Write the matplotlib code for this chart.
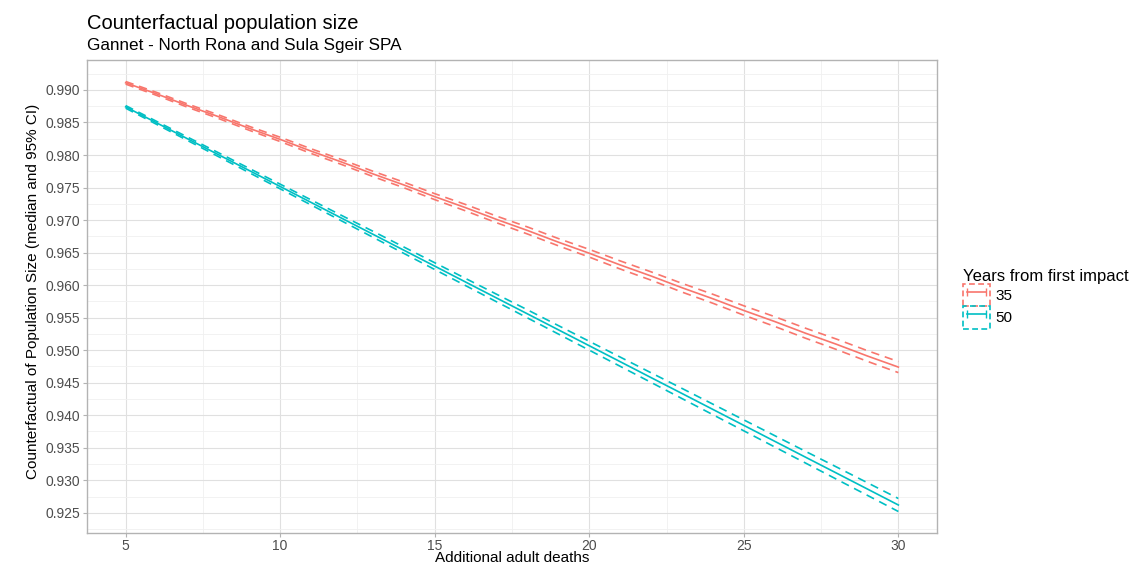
import numpy as np
import matplotlib.pyplot as plt
from matplotlib.lines import Line2D
from matplotlib.patches import Patch
from matplotlib.ticker import MultipleLocator

plt.rcParams['font.family'] = ['Liberation Sans', 'DejaVu Sans']

# additional adult deaths
deaths = list(range(5, 31))

# 35 years from first impact
med_35 = [0.9911, 0.9894, 0.9876, 0.9859, 0.9841, 0.9824, 0.9806, 0.9789, 0.9771,
          0.9754, 0.9736, 0.9719, 0.9701, 0.9684, 0.9666, 0.9649, 0.9631, 0.9614,
          0.9596, 0.9579, 0.9561, 0.9544, 0.9526, 0.9509, 0.9491, 0.9474]
up_35 = [0.99130, 0.98963, 0.98785, 0.98618, 0.98440, 0.98273, 0.98096, 0.97928,
         0.97751, 0.97583, 0.97406, 0.97239, 0.97061, 0.96894, 0.96716, 0.96549,
         0.96372, 0.96204, 0.96027, 0.95859, 0.95682, 0.95515, 0.95337, 0.95170,
         0.94992, 0.94825]
lo_35 = [0.99090, 0.98917, 0.98735, 0.98562, 0.98380, 0.98207, 0.98024, 0.97852,
         0.97669, 0.97497, 0.97314, 0.97141, 0.96959, 0.96786, 0.96604, 0.96431,
         0.96248, 0.96076, 0.95893, 0.95721, 0.95538, 0.95365, 0.95183, 0.95010,
         0.94828, 0.94655]

# 50 years from first impact
med_50 = [0.98740, 0.98495, 0.98250, 0.98006, 0.97761, 0.97516, 0.97271, 0.97026,
          0.96782, 0.96537, 0.96292, 0.96047, 0.95802, 0.95558, 0.95313, 0.95068,
          0.94823, 0.94578, 0.94334, 0.94089, 0.93844, 0.93599, 0.93354, 0.93110,
          0.92865, 0.92620]
up_50 = [0.98760, 0.98518, 0.98276, 0.98036, 0.97794, 0.97552, 0.97310, 0.97068,
         0.96828, 0.96586, 0.96344, 0.96102, 0.95860, 0.95620, 0.95378, 0.95136,
         0.94894, 0.94652, 0.94412, 0.94170, 0.93928, 0.93686, 0.93444, 0.93204,
         0.92962, 0.92720]
lo_50 = [0.98720, 0.98472, 0.98224, 0.97976, 0.97728, 0.97480, 0.97232, 0.96984,
         0.96736, 0.96488, 0.96240, 0.95992, 0.95744, 0.95496, 0.95248, 0.95000,
         0.94752, 0.94504, 0.94256, 0.94008, 0.93760, 0.93512, 0.93264, 0.93016,
         0.92768, 0.92520]

groups = ['35', '50']
colors = ['#F8766D', '#00BFC4']
series = [(med_35, up_35, lo_35), (med_50, up_50, lo_50)]

fig = plt.figure(figsize=(11.34, 5.67), dpi=100)
ax = fig.add_axes([87/1134, 1 - 533/567, 850/1134, 473/567])

dash = (0, (5, 3.5))
for (med, up, lo), col in zip(series, colors):
    ax.plot(deaths, med, color=col, lw=1.2)
    ax.plot(deaths, up, color=col, lw=1.2, ls=dash)
    ax.plot(deaths, lo, color=col, lw=1.2, ls=dash)

# ggplot-style 5% expansion
ymin = min(lo_50)
ymax = max(up_35)
yr = ymax - ymin
ax.set_xlim(5 - 1.25, 30 + 1.25)
ax.set_ylim(ymin - 0.05 * yr, ymax + 0.05 * yr)

ax.set_xticks([5, 10, 15, 20, 25, 30])
ax.xaxis.set_minor_locator(MultipleLocator(2.5))
yt = np.arange(0.925, 0.9901, 0.005)
ax.set_yticks(yt)
ax.set_yticklabels([f'{v:.3f}' for v in yt])
ax.yaxis.set_minor_locator(MultipleLocator(0.0025))

ax.grid(which='major', color='#E0E0E0', lw=0.8)
ax.grid(which='minor', color='#F0F0F0', lw=0.6)
ax.set_axisbelow(True)
for s in ax.spines.values():
    s.set_color('#B3B3B3')
    s.set_linewidth(1.0)
ax.tick_params(which='major', length=3, color='#B3B3B3', labelsize=10,
               labelcolor='#4D4D4D')
ax.tick_params(axis='x', pad=1)
ax.tick_params(axis='y', pad=2)
ax.tick_params(which='minor', length=0)

ax.set_xlabel('Additional adult deaths', fontsize=11, va='top')
ax.xaxis.set_label_coords(0.5, -(551 - 533) / 473)
ax.set_ylabel('Counterfactual of Population Size (median and 95% CI)',
              fontsize=11)
ax.yaxis.set_label_coords((40 - 87) / 850, (533 - 291) / 473)

fig.text(87/1134, 1 - 29/567, 'Counterfactual population size', fontsize=14.5)
fig.text(87/1134, 1 - 50/567, 'Gannet - North Rona and Sula Sgeir SPA', fontsize=12.3)

handles = []
for col in colors:
    box = Patch(facecolor='none', edgecolor=col, ls=(0, (3.5, 2)), lw=1.2)
    ln = Line2D([], [], color=col, lw=1.2, marker='|', markersize=6)
    handles.append((box, ln))
leg = ax.legend(handles, groups, title='Years from first impact',
                loc='upper left', bbox_to_anchor=(952/1134, 1 - 258/567),
                bbox_transform=fig.transFigure, frameon=False, fontsize=11,
                title_fontsize=12, numpoints=2, handlelength=1.8,
                handleheight=1.9, labelspacing=0.0, handletextpad=0.35,
                borderpad=0.2)
leg._legend_box.align = 'left'

fig.savefig('out.png', dpi=100)
